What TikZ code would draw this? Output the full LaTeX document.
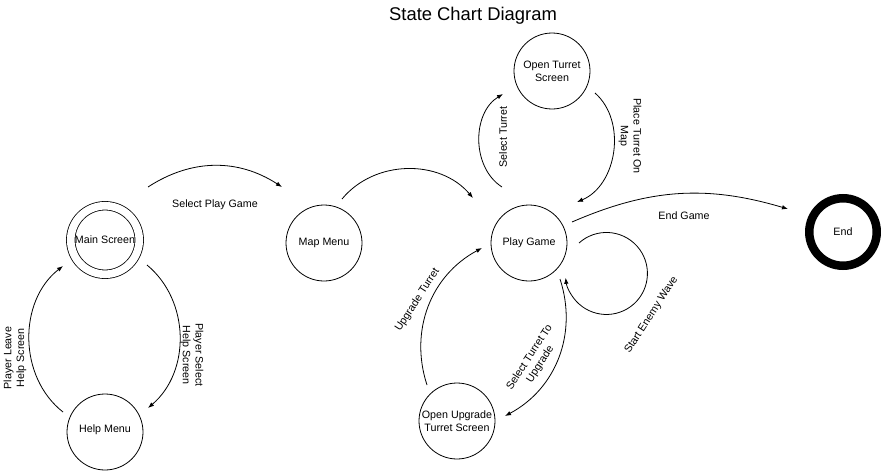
\documentclass[tikz,border=0pt]{standalone}
\usepackage{fontspec}
\setmainfont{Liberation Sans}
\usetikzlibrary{arrows.meta}
\begin{document}
\begin{tikzpicture}[x=1pt,y=1pt,
  lbl/.style={font=\fontsize{10.7}{12.8}\selectfont, align=center, inner sep=0pt},
  state/.style={circle, draw, line width=0.8pt, minimum size=76pt, inner sep=0pt, lbl},
  conn/.style={line width=0.8pt, -{Latex[length=6pt,width=4.5pt]}},
]
\useasboundingbox (0,0) rectangle (881,-471);
\fill[white] (0,0) rectangle (881,-471);
\node[font=\fontsize{18.4}{22}\selectfont, inner sep=0pt] (title) at (473,-16) {State Chart Diagram};
% states
\node[state, minimum size=68.5pt, double, double distance=7.7pt] (ms) at (105,-240) {Main Screen};
\node[state] (mm) at (324,-243) {Map Menu};
\node[state] (pg) at (529,-243) {Play Game};
\node[state] (ot) at (552,-71) {Open Turret\\Screen};
\node[state] (ou) at (457,-421) {Open Upgrade\\Turret Screen};
\node[state] (hm) at (105,-432) {\raisebox{6pt}{Help Menu}};
\node[state, line width=8.5pt, minimum size=67.5pt] (end) at (843,-232) {End};
% connectors
\draw[conn] ([shift={(43,53)}]ms.center) to[bend left=33] ([shift={(-42,56)}]mm.center);
\draw[conn] ([shift={(18,44)}]mm.center) to[bend left=50] ([shift={(-56,45)}]pg.center);
\draw[conn] ([shift={(42,-25)}]ms.center) to[bend left=50] ([shift={(43,24)}]hm.center);
\draw[conn] ([shift={(-42,20)}]hm.center) to[bend left=52] ([shift={(-42,-26)}]ms.center);
\draw[conn] ([shift={(-27,56)}]pg.center) to[bend left=58] ([shift={(-49,-23)}]ot.center);
\draw[conn] ([shift={(43,-22)}]ot.center) to[bend left=58] ([shift={(48,41)}]pg.center);
\draw[conn] ([shift={(43,21)}]pg.center) to[bend left=20] ([shift={(-55,23)}]end.center);
\draw[conn] ([shift={(50,0)}]pg.center) arc[start angle=132, end angle=-174, radius=41];
\draw[conn] ([shift={(31,-36)}]pg.center) to[bend left=40] ([shift={(48,5)}]ou.center);
\draw[conn] ([shift={(-30,36)}]ou.center) to[bend left=40] ([shift={(-47,-5)}]pg.center);
% labels
\node[lbl] (l1) at (215,-205) {Select Play Game};
\node[lbl, rotate=-90] (l2) at (192,-355) {Player Select\\Help Screen};
\node[lbl, rotate=90] (l3) at (15,-358) {Player Leave\\Help Screen};
\node[lbl, rotate=90] (l4) at (503,-137) {Select Turret};
\node[lbl, rotate=-90] (l5) at (630,-136) {Place Turret On\\Map};
\node[lbl] (l6) at (684,-216) {End Game};
\node[lbl, rotate=57] (l7) at (651.5,-315) {Start Enemy Wave};
\node[lbl, rotate=57] (l8) at (535,-361) {Select Turret To\\Upgrade};
\node[lbl, rotate=57] (l9) at (417.5,-300) {Upgrade Turret};
\end{tikzpicture}
\end{document}
